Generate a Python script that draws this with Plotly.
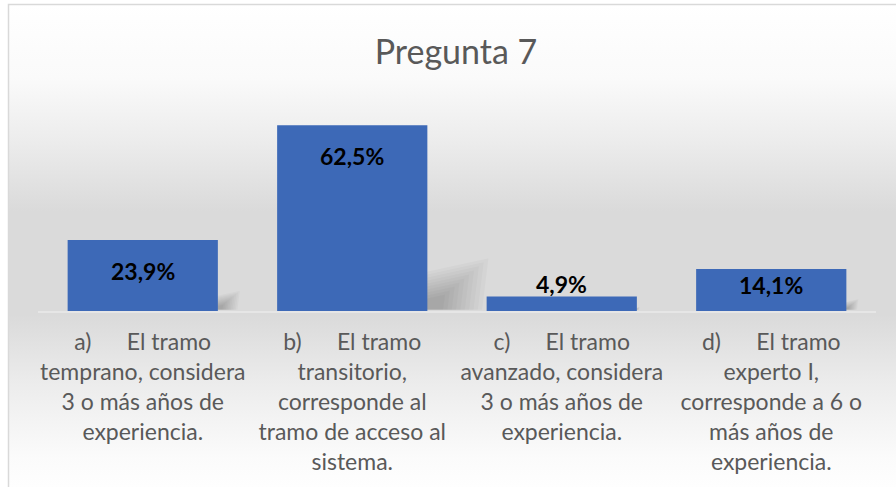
import base64
import plotly.graph_objects as go

# ---- data ----
categories = [
    "a)\u00a0\u00a0\u00a0\u00a0\u00a0\u00a0El tramo<br>temprano, considera<br>3 o más años de<br>experiencia.",
    "b)\u00a0\u00a0\u00a0\u00a0\u00a0\u00a0El tramo<br>transitorio,<br>corresponde al<br>tramo de acceso al<br>sistema.",
    "c)\u00a0\u00a0\u00a0\u00a0\u00a0\u00a0El tramo<br>avanzado, considera<br>3 o más años de<br>experiencia.",
    "d)\u00a0\u00a0\u00a0\u00a0\u00a0\u00a0El tramo<br>experto I,<br>corresponde a 6 o<br>más años de<br>experiencia.",
]
values = [23.9, 62.5, 4.9, 14.1]
value_labels = ["23,9%", "62,5%", "4,9%", "14,1%"]
title_text = "Pregunta 7"

W, H = 896, 487
L, R, T, B = 38, 20, 103, 176
plot_w = W - L - R
plot_h = H - T - B
Y_MAX = 70
BARGAP = 0.283
half_w = (1 - BARGAP) / 2
px_per_unit = plot_h / Y_MAX

xs = list(range(len(values)))

fig = go.Figure()
fig.add_trace(go.Bar(
    x=xs, y=values,
    marker=dict(color="#3D69B7", line=dict(width=0)),
    hoverinfo="skip",
))

# data labels (inside end, or above the bar when it is too short)
for i, (v, lab) in enumerate(zip(values, value_labels)):
    bar_px = v * px_per_unit
    if bar_px > 60:
        shift = -31
    elif bar_px > 30:
        shift = -16
    else:
        shift = 12
    fig.add_annotation(
        x=i, y=v, xref="x", yref="y", text=f"<b>{lab}</b>", showarrow=False,
        yanchor="middle", yshift=shift,
        font=dict(family="Lato", size=23, color="#000000"),
    )

# soft shadows behind bars (derived from values)
n_layers = 10
for i, v in enumerate(values):
    x0 = i + half_w - 0.01
    for j in range(n_layers):
        k = 1.05 - j * 0.08
        w = 0.0046 * v * k
        h1 = 0.20 * v * k
        h2 = 0.27 * v * k
        fig.add_shape(
            type="path", xref="x", yref="y", layer="below",
            path=f"M {x0},{0.4} L {x0},{h1} L {x0 + w},{h2} L {x0 + w * 0.9},{0.4} Z",
            fillcolor="rgba(0,0,0,0.025)", line=dict(width=0),
        )

# background gradient (chart area style)
svg = (
    '<svg xmlns="http://www.w3.org/2000/svg" width="100" height="100" preserveAspectRatio="none">'
    '<defs><linearGradient id="g" x1="0" y1="0" x2="0" y2="1">'
    '<stop offset="0" stop-color="#ffffff"/>'
    '<stop offset="0.15" stop-color="#fafafa"/>'
    '<stop offset="0.28" stop-color="#ececec"/>'
    '<stop offset="0.42" stop-color="#dadada"/>'
    '<stop offset="0.63" stop-color="#dadada"/>'
    '<stop offset="0.77" stop-color="#ececec"/>'
    '<stop offset="0.92" stop-color="#fbfbfb"/>'
    '<stop offset="1" stop-color="#ffffff"/>'
    '</linearGradient></defs>'
    '<rect x="0" y="0" width="100" height="100" fill="url(#g)"/></svg>'
)
src = "data:image/svg+xml;base64," + base64.b64encode(svg.encode()).decode()


def px_to_paper_x(px):
    return (px - L) / plot_w


def px_to_paper_y(py):
    return (H - B - py) / plot_h


fig.add_layout_image(
    source=src, xref="paper", yref="paper",
    x=px_to_paper_x(8), y=px_to_paper_y(4),
    sizex=(W + 10 - 8) / plot_w, sizey=(H + 10 - 4) / plot_h,
    xanchor="left", yanchor="top", sizing="stretch", layer="below",
)

# chart border
fig.add_shape(
    type="rect", xref="paper", yref="paper",
    x0=px_to_paper_x(8.5), x1=px_to_paper_x(W + 5),
    y0=px_to_paper_y(H + 5), y1=px_to_paper_y(4.5),
    line=dict(color="#d9d9d9", width=1.5), fillcolor="rgba(0,0,0,0)", layer="above",
)

fig.update_layout(
    width=W, height=H,
    margin=dict(l=L, r=R, t=T, b=B, pad=0, autoexpand=False),
    paper_bgcolor="#ffffff", plot_bgcolor="rgba(0,0,0,0)",
    bargap=BARGAP, showlegend=False,
    title=dict(
        text=title_text, x=456 / W, xanchor="center", xref="container",
        y=1 - 52 / H, yanchor="middle", yref="container",
        font=dict(family="Lato", size=34, color="#595959"),
    ),
    font=dict(family="Lato", color="#595959"),
)
fig.update_xaxes(
    range=[-0.5, len(values) - 0.5], tickmode="array", tickvals=xs, ticktext=categories,
    showgrid=False, zeroline=False, showline=True, linecolor="#e6e6e6", linewidth=1.5,
    ticks="", ticklabelstandoff=10, tickangle=0, automargin=False,
    tickfont=dict(family="Lato", size=23, color="#595959"),
)
fig.update_yaxes(range=[0, Y_MAX], visible=False, showgrid=False, zeroline=False)

fig.write_html(
    "out.html",
    config={"displayModeBar": False, "staticPlot": True},
    post_script="document.body.style.margin='0';document.body.style.padding='0';",
)
